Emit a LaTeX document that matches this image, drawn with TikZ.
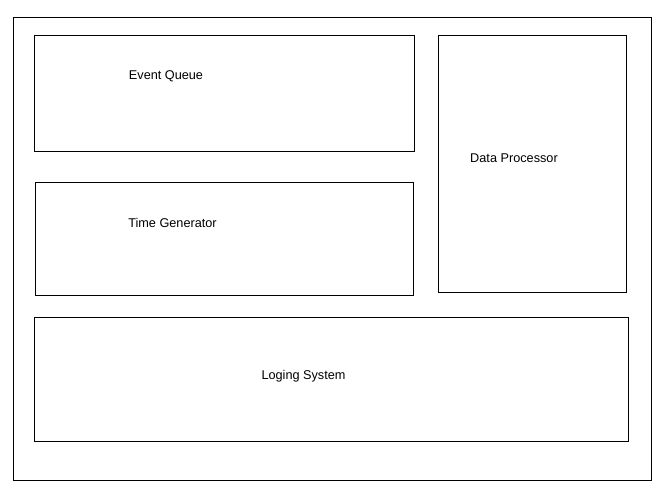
\documentclass[tikz,border=0pt]{standalone}
\usepackage{fontspec}
\setmainfont{Liberation Sans}
\begin{document}
\begin{tikzpicture}[x=1pt,y=-1pt,
  box/.style={draw=black,line width=1pt},
  lbl/.style={font=\fontsize{12.7}{14}\selectfont,inner sep=0pt}]
\useasboundingbox[fill=white] (0,0) rectangle (669,501);
\draw[box] (13.5,17.5) rectangle (651.5,480.5);
\draw[box] (34.5,35.5) rectangle (414.5,151.5);
\draw[box] (35.5,182.5) rectangle (413.5,295.5);
\draw[box] (438.5,35.5) rectangle (626.5,292.5);
\draw[box] (34.5,317.5) rectangle (628.5,441.5);
\node[lbl] (eq) at (166,76) {Event Queue};
\node[lbl] (tg) at (172.5,223) {Time Generator};
\node[lbl] (dp) at (514,158) {Data Processor};
\node[lbl] (ls) at (303.5,376) {Loging System};
\end{tikzpicture}
\end{document}
